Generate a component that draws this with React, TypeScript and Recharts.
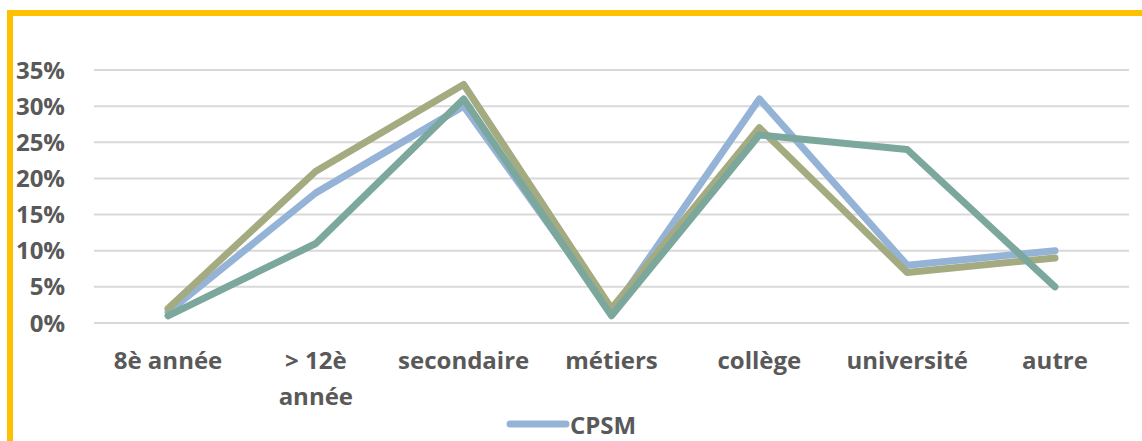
import { LineChart, Line, XAxis, YAxis, CartesianGrid, Legend } from 'recharts'

const categories = ['8è année', '> 12è année', 'secondaire', 'métiers', 'collège', 'université', 'autre']
const cpsm = [1.5, 18, 30, 1.5, 31, 8, 10]
const olive = [2, 21, 33, 2, 27, 7, 9]
const teal = [1, 11, 31, 1, 26, 24, 5]
const yTicks = [0, 5, 10, 15, 20, 25, 30, 35]

const data = categories.map((name, i) => ({ name, cpsm: cpsm[i], olive: olive[i], teal: teal[i] }))

const FONT = '"Open Sans", sans-serif'
const GREY = '#595959'

function XTick({ x, y, payload }: any) {
  const label: string = payload.value
  const lines = label === '> 12è année' ? ['> 12è', 'année'] : [label]
  return (
    <text x={x} y={y} textAnchor="middle" fill={GREY} fontFamily={FONT} fontWeight={700} fontSize={24}>
      {lines.map((l, i) => (
        <tspan key={i} x={x} dy={i === 0 ? 18 : 36}>
          {l}
        </tspan>
      ))}
    </text>
  )
}

function LegendContent() {
  return (
    <div style={{ display: 'flex', justifyContent: 'center', alignItems: 'center', height: 34 }}>
      <svg width={64} height={10}>
        <line x1={4} y1={5} x2={60} y2={5} stroke="#95B3D7" strokeWidth={7} strokeLinecap="round" />
      </svg>
      <span style={{ fontFamily: FONT, fontWeight: 700, fontSize: 24, color: GREY }}>CPSM</span>
    </div>
  )
}

export default function App() {
  return (
    <div style={{ position: 'absolute', left: 0, top: 0, width: 1142, height: 441, overflow: 'hidden', background: '#fff' }}>
      <div
        style={{
          position: 'absolute',
          left: 7,
          top: 10,
          width: 1140,
          height: 440,
          borderTop: '6px solid #FFC000',
          borderLeft: '6px solid #FFC000',
        }}
      >
        <LineChart width={1129} height={425} data={data} margin={{ top: 54, right: 13, left: 0, bottom: 0 }}>
          <CartesianGrid vertical={false} stroke="#D9D9D9" strokeWidth={2} />
          <XAxis
            dataKey="name"
            axisLine={false}
            tickLine={false}
            interval={0}
            height={84}
            tickSize={0}
            tickMargin={28}
            padding={{ left: 74, right: 74 }}
            tick={<XTick />}
          />
          <YAxis
            domain={[0, 35]}
            ticks={yTicks}
            tickFormatter={(v) => `${v}%`}
            axisLine={false}
            tickLine={false}
            width={81}
            tickSize={0}
            tickMargin={29}
            tick={{ fill: GREY, fontFamily: FONT, fontWeight: 700, fontSize: 24 }}
          />
          <Legend verticalAlign="bottom" content={<LegendContent />} />
          <Line dataKey="cpsm" stroke="#95B3D7" strokeWidth={7} dot={false} strokeLinejoin="round" strokeLinecap="round" isAnimationActive={false} />
          <Line dataKey="olive" stroke="#A5AB81" strokeWidth={7} dot={false} strokeLinejoin="round" strokeLinecap="round" isAnimationActive={false} />
          <Line dataKey="teal" stroke="#7BA79D" strokeWidth={7} dot={false} strokeLinejoin="round" strokeLinecap="round" isAnimationActive={false} />
        </LineChart>
      </div>
    </div>
  )
}
